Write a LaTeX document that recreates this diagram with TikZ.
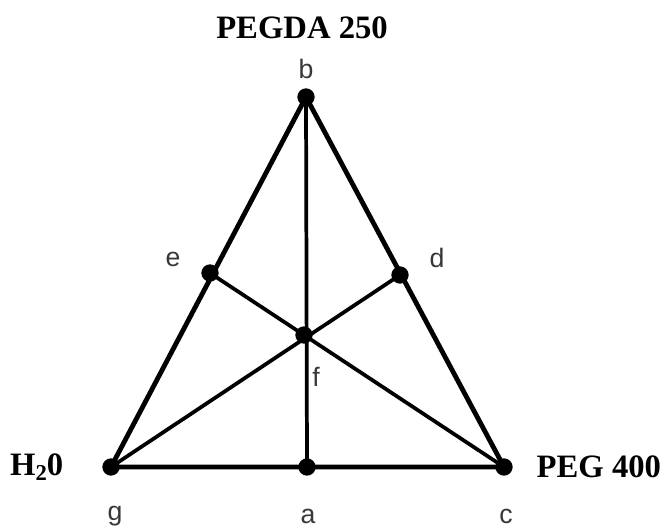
\documentclass[tikz,border=0pt]{standalone}
\usepackage{fontspec}
\setmainfont{Liberation Serif}
\newfontfamily\lblfont{Liberation Sans}
\begin{document}
\begin{tikzpicture}[x=0.75pt,y=-0.75pt,
  side/.style={line width=3.6pt,line cap=round,line join=round},
  inner/.style={line width=2.8pt,line cap=round},
  pt/.style={circle,fill=black,inner sep=0pt,minimum size=13pt},
  lbl/.style={font=\lblfont\fontsize{20}{23}\selectfont,text=black!78},
  comp/.style={font=\bfseries\fontsize{24.5}{28}\selectfont}]
\useasboundingbox (0,0) rectangle (661,529);
\node[pt] (b) at (306,97) {};
\node[pt] (g) at (111,467) {};
\node[pt] (c) at (504,467) {};
\node[pt] (a) at (307,467) {};
\node[pt] (e) at (210,273) {};
\node[pt] (d) at (400,275) {};
\node[pt] (f) at (304,335) {};
\draw[side] (b.center) -- (g.center) -- (c.center) -- cycle;
\draw[inner] (b.center) -- (a.center);
\draw[inner] (e.center) -- (c.center);
\draw[inner] (d.center) -- (g.center);
\node[lbl] (lb) at (306,69) {b};
\node[lbl] (le) at (173,259) {e};
\node[lbl] (ld) at (437,258) {d};
\node[lbl] (lf) at (316,377) {f};
\node[lbl] (lg) at (115,516) {g};
\node[lbl] (la) at (308,516) {a};
\node[lbl] (lc) at (506,516) {c};
\node[comp] (top) at (302,28) {PEGDA 250};
\node[comp,anchor=east] (left) at (68,467) {H\raisebox{-0.3ex}{\fontsize{17}{20}\selectfont 2}0};
\node[comp,anchor=west] (right) at (532,467) {PEG 400};
\end{tikzpicture}
\end{document}
